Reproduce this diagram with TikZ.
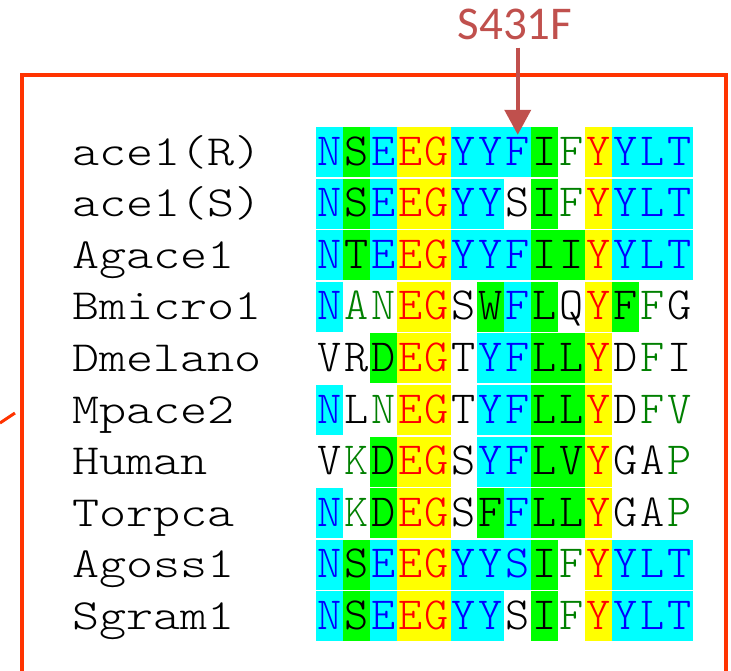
\documentclass[tikz,border=0pt]{standalone}
\usepackage{graphicx}
\usepackage{fontspec}
\newfontfamily\calibfont{Carlito}
\newfontfamily\seqfont{lmmonolt10-regular.otf}
\usetikzlibrary{arrows.meta}
\definecolor{bgC}{HTML}{00FFFF}
\definecolor{bgG}{HTML}{00FF00}
\definecolor{bgY}{HTML}{FFFF00}
\definecolor{bgW}{HTML}{FFFFFF}
\definecolor{fgb}{HTML}{0000FF}
\definecolor{fgk}{HTML}{000000}
\definecolor{fgr}{HTML}{FF0000}
\definecolor{fgg}{HTML}{008000}
\definecolor{boxred}{HTML}{FF3300}
\definecolor{mutred}{HTML}{C0504D}
\tikzset{
  cell/.style={minimum width=26.9pt, minimum height=50pt, inner sep=0pt,
    text height=26pt, text depth=0pt, font=\seqfont\fontsize{46}{46}\selectfont},
  lab/.style={anchor=base west, inner sep=0pt, font=\seqfont\fontsize{43}{43}\selectfont},
  boxline/.style={draw=boxred, line width=4pt},
  mutlabel/.style={anchor=base, inner sep=0pt, text=mutred, font=\calibfont\fontsize{47}{47}\selectfont},
  mutarrow/.style={draw=mutred, line width=4pt, -{Triangle[width=26pt,length=25pt]}}
}
\newcommand{\seqrow}[3]{%
  \pgfmathsetmacro{\rowc}{152+51.6*(#1-1)}%
  \node[lab] (l#1) at (72,\rowc+13) {\scalebox{1.2}[1]{#2}};%
  \foreach \ch/\bg/\fg [count=\i] in {#3} {%
    \pgfmathsetmacro{\colx}{316+26.9*(\i-0.5)}%
    \node[cell, fill=bg\bg, text=fg\fg] (c#1-\i) at (\colx,\rowc) {\ch};%
  }%
}
\begin{document}
\begin{tikzpicture}[x=1pt,y=-1pt]
\useasboundingbox (0,0) rectangle (731,670);
\begin{scope}
\clip (0,0) rectangle (731,670);
\draw[boxline] (21.5,680) -- (21.5,75) -- (726,75) -- (726,680);
\coordinate (s0) at (0,423);
\coordinate (s1) at (15,413);
\draw[boxline, line width=3pt] (s0) -- (s1);
\end{scope}
\seqrow{1}{ace1(R)}{N/C/b, S/G/k, E/C/b, E/Y/r, G/Y/r, Y/C/b, Y/C/b, F/C/b, I/G/k, F/W/g, Y/Y/r, Y/C/b, L/C/b, T/C/b}
\seqrow{2}{ace1(S)}{N/C/b, S/G/k, E/C/b, E/Y/r, G/Y/r, Y/C/b, Y/C/b, S/W/k, I/G/k, F/W/g, Y/Y/r, Y/C/b, L/C/b, T/C/b}
\seqrow{3}{Agace1}{N/C/b, T/G/k, E/C/b, E/Y/r, G/Y/r, Y/C/b, Y/C/b, F/C/b, I/G/k, I/G/k, Y/Y/r, Y/C/b, L/C/b, T/C/b}
\seqrow{4}{Bmicro1}{N/C/b, A/W/g, N/W/g, E/Y/r, G/Y/r, S/W/k, W/G/k, F/C/b, L/G/k, Q/W/k, Y/Y/r, F/G/k, F/W/g, G/W/k}
\seqrow{5}{Dmelano}{V/W/k, R/W/k, D/G/k, E/Y/r, G/Y/r, T/W/k, Y/C/b, F/C/b, L/G/k, L/G/k, Y/Y/r, D/W/k, F/W/g, I/W/k}
\seqrow{6}{Mpace2}{N/C/b, L/W/k, N/W/g, E/Y/r, G/Y/r, T/W/k, Y/C/b, F/C/b, L/G/k, L/G/k, Y/Y/r, D/W/k, F/W/g, V/W/g}
\seqrow{7}{Human}{V/W/k, K/W/g, D/G/k, E/Y/r, G/Y/r, S/W/k, Y/C/b, F/C/b, L/G/k, V/G/k, Y/Y/r, G/W/k, A/W/k, P/W/g}
\seqrow{8}{Torpca}{N/C/b, K/W/g, D/G/k, E/Y/r, G/Y/r, S/W/k, F/G/k, F/C/b, L/G/k, L/G/k, Y/Y/r, G/W/k, A/W/k, P/W/g}
\seqrow{9}{Agoss1}{N/C/b, S/G/k, E/C/b, E/Y/r, G/Y/r, Y/C/b, Y/C/b, S/C/b, I/G/k, F/W/g, Y/Y/r, Y/C/b, L/C/b, T/C/b}
\seqrow{10}{Sgram1}{N/C/b, S/G/k, E/C/b, E/Y/r, G/Y/r, Y/C/b, Y/C/b, S/W/k, I/G/k, F/W/g, Y/Y/r, Y/C/b, L/C/b, T/C/b}
\node[mutlabel] (mut) at (515,39) {S431F};
\draw[mutarrow] ([yshift=-8pt]mut.south -| c1-8.north) -- ([yshift=-8pt]c1-8.north);
\end{tikzpicture}
\end{document}
